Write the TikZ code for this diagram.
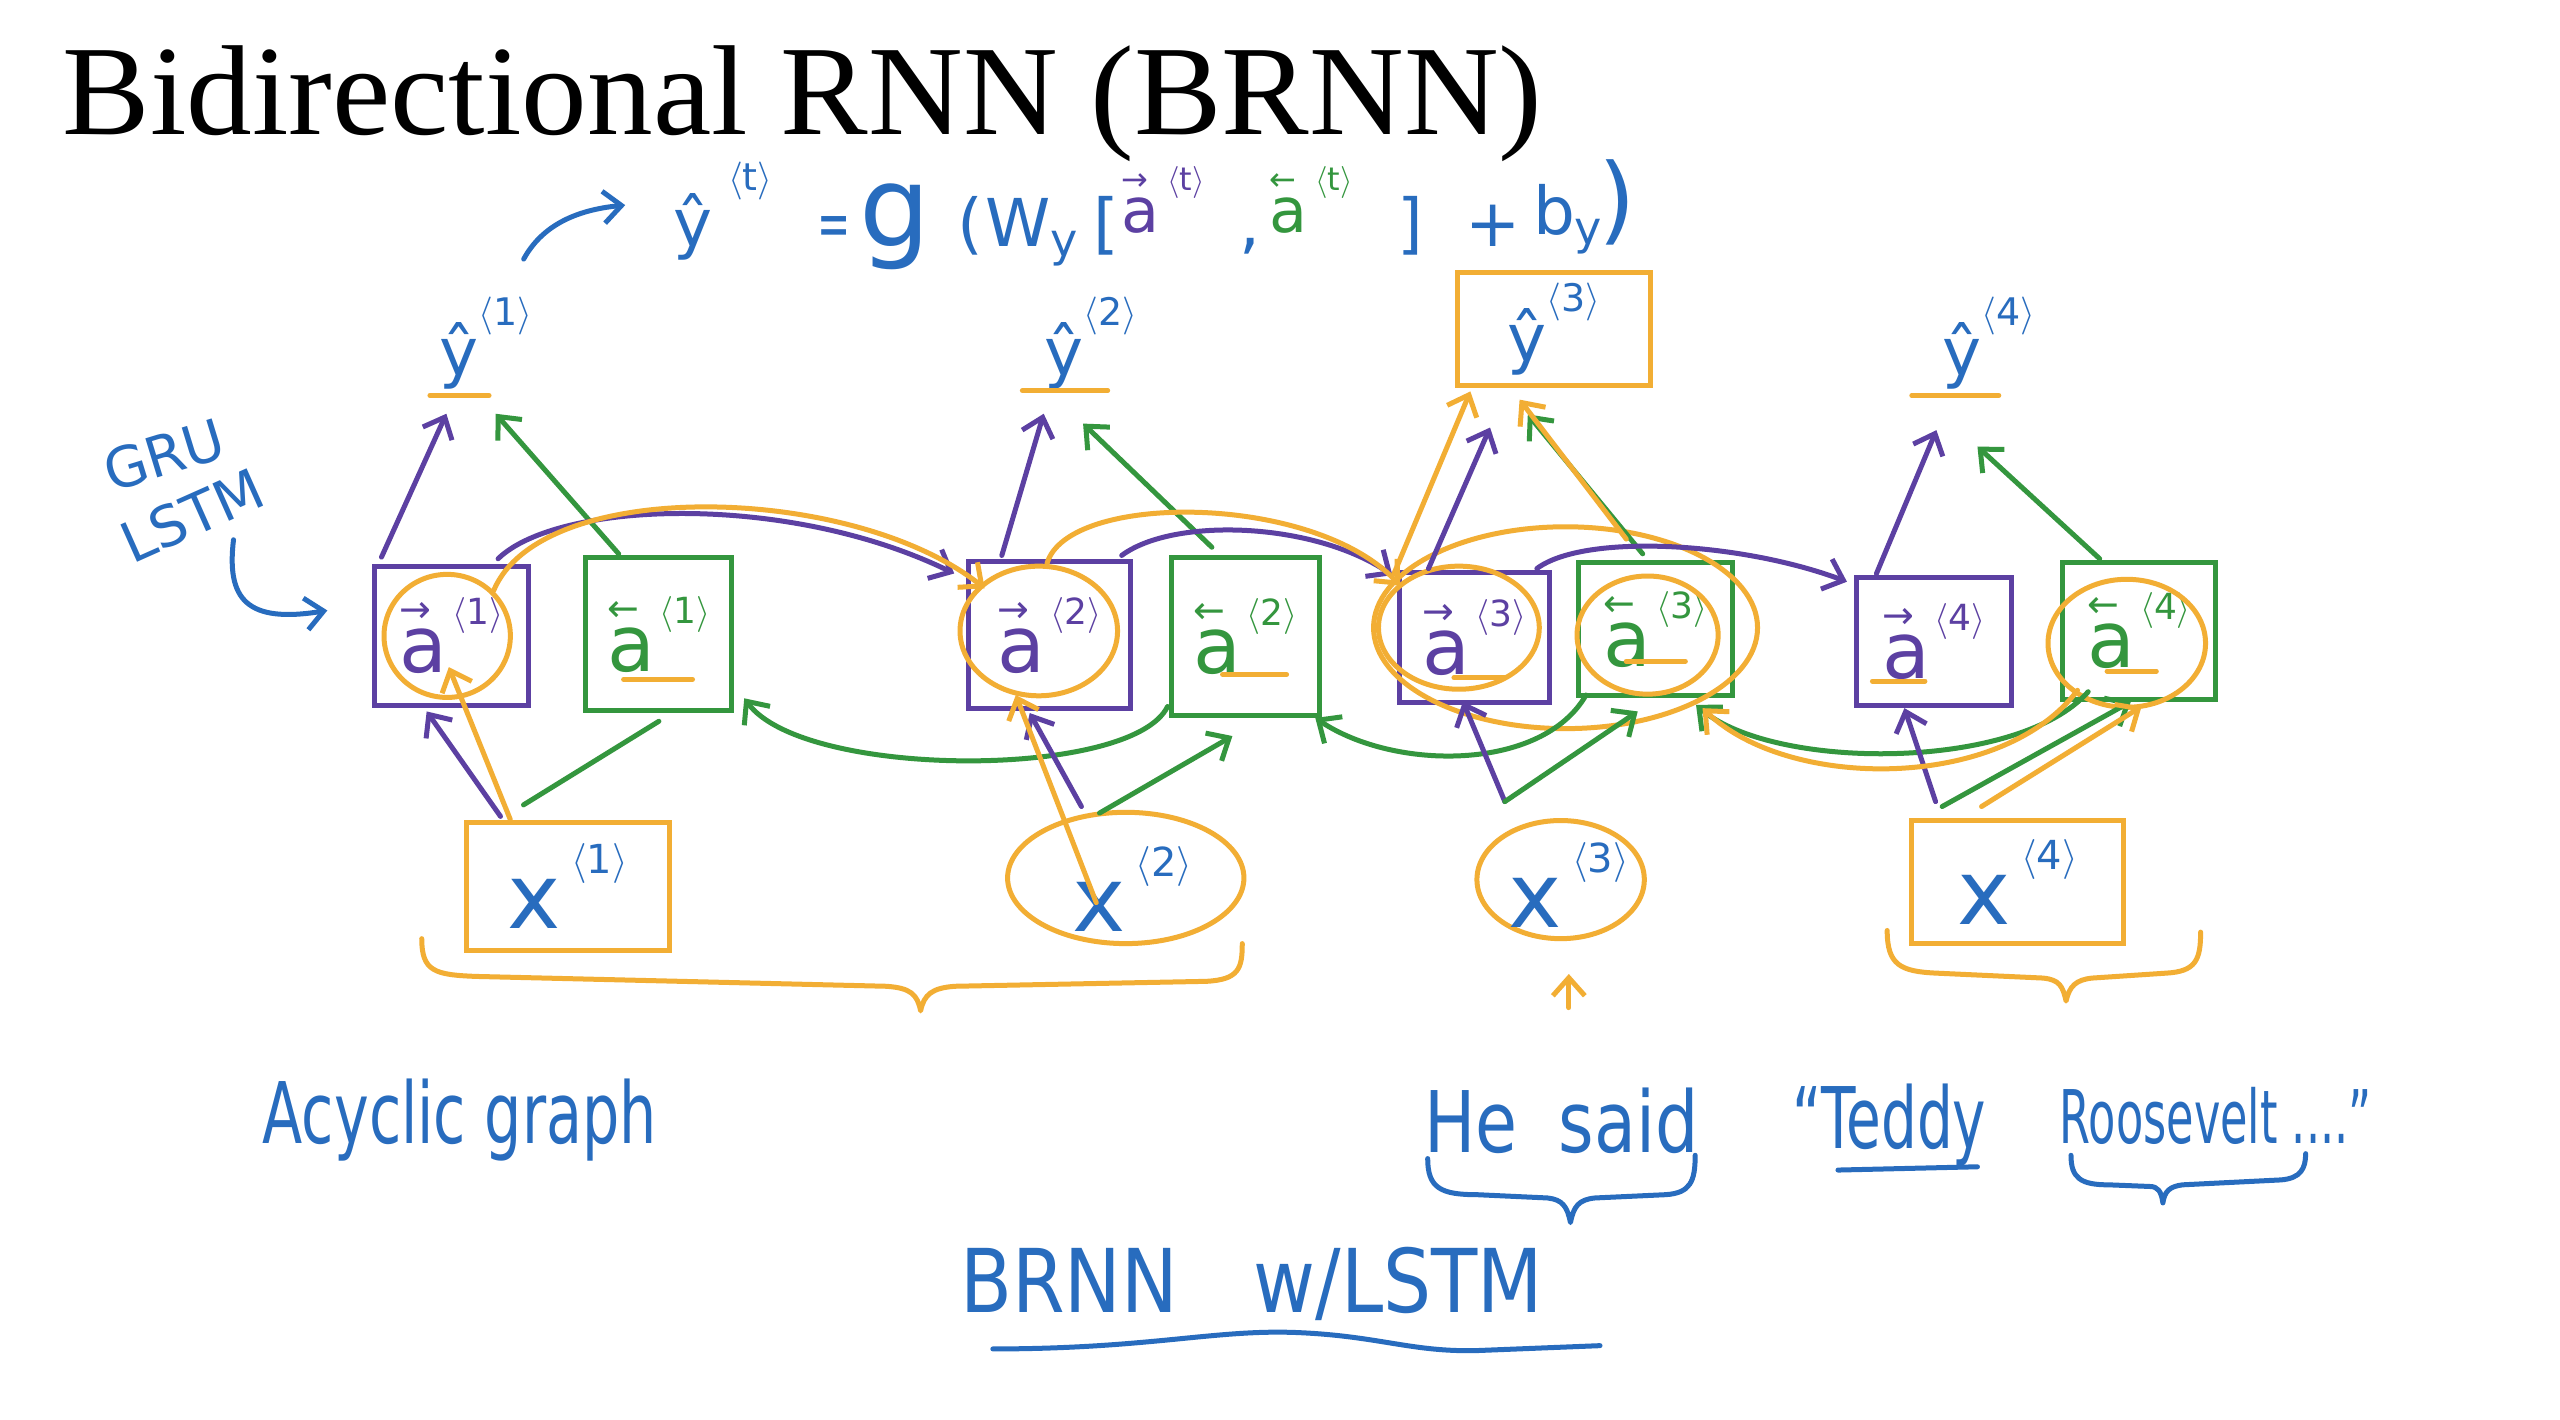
\RequirePackage{fix-cm}
\documentclass[tikz,border=0pt]{standalone}
\usepackage{fontspec}
\usepackage{graphicx}
\usetikzlibrary{arrows.meta,shapes.geometric,calc}
\newfontfamily\hand{DejaVu Sans}
\newfontfamily\titlefont{Liberation Serif}
\definecolor{hblue}{RGB}{40,108,190}
\definecolor{hpurp}{RGB}{92,64,162}
\definecolor{hgreen}{RGB}{52,150,62}
\definecolor{horange}{RGB}{242,174,52}
\newcommand\ang[1]{\ensuremath{\langle}#1\ensuremath{\rangle}}
\newcommand\veca[2]{\makebox[0pt][l]{\raisebox{50pt}{\fontsize{38}{38}\selectfont #1}}a\hspace{5pt}\raisebox{48pt}{\fontsize{36}{36}\selectfont\ang{#2}}}
\newcommand\vecf[2]{\raisebox{14pt}{\makebox[0pt][l]{\raisebox{42pt}{\fontsize{32}{32}\selectfont #1}}{\fontsize{62}{62}\selectfont a}\hspace{8pt}\raisebox{42pt}{\fontsize{32}{32}\selectfont\ang{#2}}}}
\newcommand\yh[1]{ŷ\raisebox{50pt}{\fontsize{38}{38}\selectfont\ang{#1}}}
\newcommand\xx[1]{x\hspace{10pt}\raisebox{55pt}{\fontsize{40}{40}\selectfont\ang{#1}}}
\newcommand\fmat[2]{\makebox[0pt][l]{\hspace*{#1}#2}}
\newcommand\boxnode[7]{\node[#1, minimum width={(#4-#2)*1.641pt}, minimum height={(#5-#3)*1.641pt}] (#6) at ({(#2+#4)/2},{(#3+#5)/2}) {#7};}
\tikzset{
 pen/.style={line width=5pt, line cap=round, line join=round},
 ppen/.style={pen, draw=hpurp},
 gpen/.style={pen, draw=hgreen},
 opath/.style={pen, draw=horange},
 bpen/.style={pen, draw=hblue},
 arr/.style={-{Straight Barb[length=18pt,width=32pt]}},
 fbox/.style={draw=hpurp, line width=5pt, inner sep=0pt, text=hpurp, font=\hand\fontsize{78}{80}\selectfont},
 bbox/.style={draw=hgreen, line width=5pt, inner sep=0pt, text=hgreen, font=\hand\fontsize{78}{80}\selectfont},
 oell/.style={ellipse, draw=horange, line width=5pt, inner sep=0pt},
 ylab/.style={inner sep=0pt, text=hblue, font=\hand\fontsize{66}{70}\selectfont},
 ybox/.style={ylab, draw=horange, line width=5pt},
 xrect/.style={draw=horange, line width=5pt, inner sep=0pt, text=hblue, font=\hand\fontsize{90}{92}\selectfont},
 xell/.style={ellipse, draw=horange, line width=5pt, inner sep=0pt},
 xlab/.style={inner sep=0pt, text=hblue, font=\hand\fontsize{90}{92}\selectfont},
 htext/.style={inner sep=0pt, text=hblue, font=\hand\fontsize{85}{88}\selectfont, anchor=base west},
}
\begin{document}
\begin{tikzpicture}[x=1.641pt, y=-1.641pt]
\fill[white] (0,0) rectangle (1560,865.3);
\useasboundingbox (0,0) rectangle (1560,865.3);

% title
\node[anchor=base west, inner sep=0pt, font=\titlefont\fontsize{128}{134}\selectfont] (title) at (38,82) {\resizebox{1480pt}{\height}{Bidirectional RNN (BRNN)}};

% formula
\node[inner sep=0pt, text=hblue, font=\hand\fontsize{66}{68}\selectfont, anchor=base west] (fm) at (410,150) {%
\fmat{0pt}{ŷ\hspace{16pt}\raisebox{56pt}{\fontsize{38}{38}\selectfont\ang{t}}}%
\fmat{144pt}{\scalebox{0.6}[1]{=}}%
\fmat{186pt}{{\fontsize{112}{112}\selectfont g}}%
\fmat{284pt}{(}%
\fmat{312pt}{W\textsubscript{y}}%
\fmat{420pt}{[}%
\fmat{448pt}{\textcolor{hpurp}{\vecf{→}{t}}}%
\fmat{566pt}{,}%
\fmat{596pt}{\textcolor{hgreen}{\vecf{←}{t}}}%
\fmat{724pt}{]}%
\fmat{792pt}{+}%
\fmat{860pt}{\raisebox{12pt}{b\textsubscript{y}}}%
\fmat{925pt}{\raisebox{14pt}{\fontsize{96}{96}\selectfont )}}%
\hspace*{976pt}};

% GRU / LSTM
\node[inner sep=0pt, text=hblue, font=\hand\fontsize{56}{58}\selectfont, rotate=17] (gru) at (100,277) {GRU};
\node[inner sep=0pt, text=hblue, font=\hand\fontsize{56}{58}\selectfont, rotate=24] (lstm) at (117,314) {LSTM};

% outputs
\boxnode{ylab}{266}{174}{326}{244}{Y1}{\yh{1}}
\boxnode{ylab}{635}{174}{695}{244}{Y2}{\yh{2}}
\boxnode{ybox}{888}{166}{1006}{235}{Y3}{\yh{3}}
\boxnode{ylab}{1182}{174}{1242}{244}{Y4}{\yh{4}}

% activation boxes
\boxnode{fbox}{228}{345}{322}{430}{F1}{\veca{→}{1}}
\boxnode{bbox}{357}{340}{446}{433}{B1}{\veca{←}{1}}
\boxnode{fbox}{590}{342}{689}{432}{F2}{\veca{→}{2}}
\boxnode{bbox}{714}{340}{804}{436}{B2}{\veca{←}{2}}
\boxnode{fbox}{853}{349}{944}{428}{F3}{\veca{→}{3}}
\boxnode{bbox}{962}{343}{1056}{424}{B3}{\veca{←}{3}}
\boxnode{fbox}{1131}{352}{1226}{430}{F4}{\veca{→}{4}}
\boxnode{bbox}{1257}{343}{1350}{426}{B4}{\veca{←}{4}}

% inputs
\boxnode{xrect}{284}{501}{408}{579}{X1}{\xx{1}}
\boxnode{xell}{614}{495}{758}{575}{X2}{}
\boxnode{xell}{900}{500}{1002}{572}{X3}{}
\boxnode{xrect}{1165}{500}{1294}{575}{X4}{\xx{4}}
\node[xlab] (x2t) at (690,542) {\xx{2}};
\node[xlab] (x3t) at (956,539) {\xx{3}};

% orange highlight circles
\boxnode{oell}{234}{350}{311}{425}{cF1}{}
\boxnode{oell}{585}{345}{681}{424}{cF2}{}
\boxnode{oell}{840}{345}{938}{420}{cF3}{}
\boxnode{oell}{961}{351}{1047}{423}{cB3}{}
\boxnode{oell}{1248}{353}{1344}{431}{cB4}{}
\boxnode{oell}{837}{321}{1071}{444}{big}{}

% output arrows
\draw[ppen,arr] ($(F1.north west)+(6,-4)$) -- ($(Y1.south)+(-24,8)$);
\draw[gpen,arr] ($(B1.north)+(-24.5,-1)$) -- ($(Y1.south)+(6,8)$);
\draw[ppen,arr] ($(F2.north west)+(22,-2)$) -- ($(Y2.south)+(-29,8)$);
\draw[gpen,arr] ($(B2.north west)+(26,-5)$) -- ($(Y2.south)+(-5,14)$);
\draw[ppen,arr] ($(F3.north west)+(19,-1)$) -- ($(Y3.south)+(-39,24)$);
\draw[gpen,arr] ($(B3.north)+(-8,-4)$) -- ($(Y3.south)+(-16,16)$);
\draw[ppen,arr] ($(F4.north west)+(14,-1)$) -- ($(Y4.south)+(-32,18)$);
\draw[gpen,arr] ($(B4.north west)+(24,-1)$) -- ($(Y4.south)+(-7,28)$);

% forward recurrences
\draw[ppen,arr] ($(F1.north east)+(-20,-3)$) .. controls (340,305) and (480,300) .. ($(F2.north west)+(-7,9)$);
\draw[ppen,arr] ($(F2.north east)+(-7,-2)$) .. controls (715,315) and (800,318) .. ($(F3.north west)+(-3,3)$);
\draw[ppen,arr] ($(F3.north east)+(-9,-1)$) .. controls (965,325) and (1060,330) .. ($(F4.north west)+(-4,4)$);

% backward recurrences
\draw[gpen,arr] ($(B2.south west)+(-1,-7)$) .. controls (690,475) and (490,475) .. ($(B1.south east)+(6,-9)$);
\draw[gpen,arr] ($(B3.south west)+(6,-2)$) .. controls (940,470) and (850,470) .. ($(B2.south east)+(-4,0)$);
\draw[gpen,arr] ($(B4.south west)+(17,-6)$) .. controls (1230,470) and (1080,470) .. ($(B3.south east)+(-24,4)$);

% input arrows
\draw[ppen,arr] ($(X1.north)+(-41,-2)$) -- ($(F1.south)+(-15,2)$);
\draw[gpen] ($(X1.north)+(-27,-9)$) -- ($(B1.south)+(0,5)$);
\draw[ppen,arr] ($(X2.north)+(-27,-2)$) -- ($(F2.south)+(-12,1)$);
\draw[gpen,arr] ($(X2.north)+(-16,2)$) -- ($(B2.south)+(-8,11)$);
\draw[ppen,arr] ($(X3.north)+(-34,-10)$) -- ($(F3.south)+(-7,-2)$);
\draw[gpen,arr] ($(X3.north)+(-34,-10)$) -- ($(B3.south)+(-11,8)$);
\draw[ppen,arr] ($(X4.north)+(-50,-10)$) -- ($(F4.south)+(-18,0)$);
\draw[gpen,arr] ($(X4.north)+(-46,-7)$) -- ($(B4.south)+(-5,0)$);

% orange information flow
\draw[opath,arr] ($(X1.north)+(-35,0)$) -- ($(cF1.south)+(1,-20)$);
\draw[opath,arr] ($(x2t.center)+(-22,8)$) -- ($(cF2.south)+(-14,-2)$);
\draw[opath,arr] ($(X4.north)+(-22,-7)$) -- ($(cB4.south)+(9,-2)$);
\coordinate (c3) at (956,614);
\draw[opath,arr] (c3) -- ($(X3.south)+(5,20)$);
\draw[opath,arr] (cF1.north east) .. controls (330,290) and (520,295) .. ($(cF2.north west)+(2,3)$);
\draw[opath,arr] ($(cF2.north)+(5,0)$) .. controls (650,300) and (800,300) .. ($(cF3.north west)+(0,2)$);
\draw[opath,arr] ($(F3.north west)+(-2,2)$) -- ($(Y3.south)+(-51,2)$);
\draw[opath,arr] ($(B3.north)+(-18,-13)$) -- ($(Y3.south)+(-21,7)$);
\draw[opath,arr] ($(cB4.south west)+(5,0)$) .. controls (1220,482) and (1090,482) .. ($(cB3.south east)+(2,18)$);

% orange underlines
\draw[opath] (262,241) -- (298,241);
\draw[opath] (623,238) -- (675,238);
\draw[opath] (1165,241) -- (1218,241);
\draw[opath] (380,414) -- (422,414);
\draw[opath] (745,411) -- (784,411);
\draw[opath] (886,413) -- (917,413);
\draw[opath] (991,403) -- (1027,403);
\draw[opath] (1141,415) -- (1173,415);
\draw[opath] (1284,409) -- (1314,409);

% orange braces
\draw[opath] (257,572) .. controls (257,592) and (265,594) .. (290,595) -- (540,601) .. controls (555,602) and (559,606) .. (561,616) .. controls (563,606) and (568,602) .. (582,601) -- (735,598) .. controls (755,597) and (757,590) .. (757,575);
\draw[opath] (1150,567) .. controls (1150,588) and (1158,592) .. (1180,593) -- (1245,596) .. controls (1255,597) and (1257,601) .. (1259,610) .. controls (1261,601) and (1265,597) .. (1275,596) -- (1320,593) .. controls (1338,592) and (1341,585) .. (1341,568);

% blue annotation arrows
\draw[bpen,arr] ($(lstm.south)+(20,3)$) .. controls (138,365) and (150,380) .. ($(F1.west)+(-27,-15.5)$);
\draw[bpen,arr] ($(Y1.north east)+(-7,-16)$) .. controls (330,138) and (350,128) .. ($(fm.base west)+(-29,-25)$);

% bottom texts
\node[htext] (acyc) at (160,697) {\resizebox{394pt}{\height}{Acyclic graph}};
\node[htext] (hesaid) at (868,702) {\resizebox{274pt}{\height}{He\hspace{0.6em}said}};
\node[htext] (teddy) at (1092,700) {\resizebox{194pt}{\height}{“Teddy}};
\node[htext, font=\hand\fontsize{74}{76}\selectfont] (roos) at (1255,697) {\resizebox{312pt}{\height}{Roosevelt ....”}};
\node[htext, font=\hand\fontsize{88}{90}\selectfont] (brnn) at (585,800) {\resizebox{583pt}{\height}{BRNN\hspace{1em}w/LSTM}};

% blue braces and underlines
\draw[bpen] (870,706) .. controls (870,724) and (878,728) .. (900,728) -- (943,730) .. controls (952,731) and (955,735) .. (957,745) .. controls (959,735) and (962,731) .. (972,730) -- (1015,728) .. controls (1030,727) and (1033,720) .. (1033,704);
\draw[bpen] (1262,704) .. controls (1262,718) and (1268,722) .. (1285,722) -- (1310,723) .. controls (1315,723) and (1317,726) .. (1318,733) .. controls (1319,726) and (1322,723) .. (1330,722) -- (1390,719) .. controls (1402,718) and (1405,712) .. (1405,703);
\draw[bpen] (1120,713) -- (1205,711);
\draw[bpen] (605,822) .. controls (700,822) and (740,810) .. (790,812) .. controls (840,814) and (860,824) .. (900,823) -- (975,820);
\end{tikzpicture}
\end{document}
